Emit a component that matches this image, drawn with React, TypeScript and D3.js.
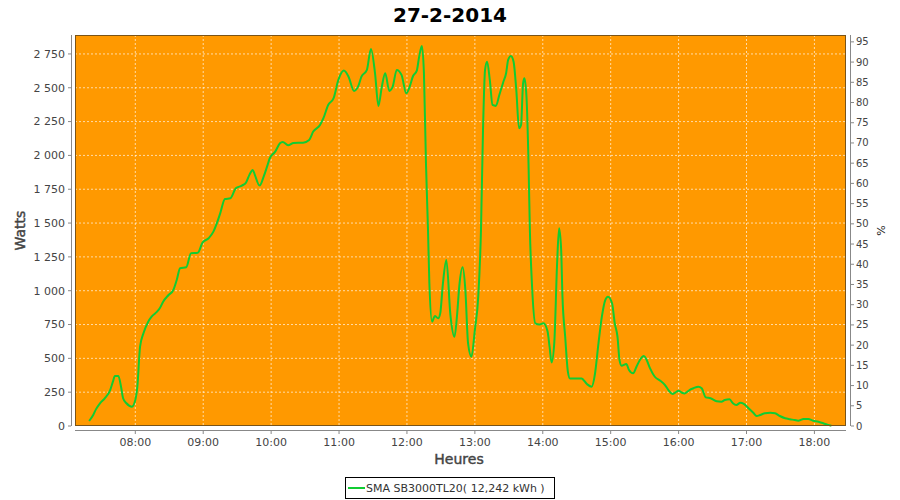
import React from "react";
import * as d3 from "d3";

const title = "27-2-2014";
const seriesName = "SMA SB3000TL20( 12,242 kWh )";
const xTickHours = [8, 9, 10, 11, 12, 13, 14, 15, 16, 17, 18];
const leftTicks = [0, 250, 500, 750, 1000, 1250, 1500, 1750, 2000, 2250, 2500, 2750];
const rightTicks = [0, 5, 10, 15, 20, 25, 30, 35, 40, 45, 50, 55, 60, 65, 70, 75, 80, 85, 90, 95];

const hours = [
  7.32, 7.38, 7.42, 7.48, 7.55, 7.63, 7.67, 7.7, 7.75, 7.79, 7.82, 7.87, 7.95, 8.0, 8.03, 8.07, 8.12, 8.19, 8.24, 8.32,
  8.36, 8.41, 8.49, 8.56, 8.61, 8.66, 8.75, 8.82, 8.92, 8.99, 9.08, 9.15, 9.2, 9.25, 9.32, 9.4, 9.48, 9.57, 9.63, 9.68,
  9.73, 9.76, 9.83, 9.89, 9.94, 9.98, 10.06, 10.13, 10.17, 10.25, 10.33, 10.47, 10.56, 10.62, 10.72, 10.77, 10.84, 10.92, 10.99, 11.07,
  11.14, 11.22, 11.28, 11.33, 11.41, 11.47, 11.53, 11.58, 11.63, 11.68, 11.74, 11.79, 11.85, 11.92, 11.99, 12.04, 12.09, 12.145, 12.18, 12.22,
  12.25, 12.28, 12.31, 12.33, 12.37, 12.41, 12.46, 12.49, 12.53, 12.58, 12.64, 12.7, 12.74, 12.77, 12.82, 12.86, 12.9, 12.95, 13.0, 13.05,
  13.09, 13.12, 13.15, 13.18, 13.22, 13.26, 13.31, 13.36, 13.42, 13.46, 13.49, 13.53, 13.57, 13.61, 13.65, 13.68, 13.71, 13.73, 13.76, 13.79,
  13.81, 13.84, 13.89, 13.95, 14.01, 14.07, 14.1, 14.13, 14.17, 14.21, 14.24, 14.27, 14.29, 14.33, 14.37, 14.4, 14.48, 14.57, 14.65, 14.72,
  14.77, 14.82, 14.87, 14.92, 14.96, 15.02, 15.06, 15.1, 15.13, 15.16, 15.23, 15.27, 15.33, 15.38, 15.43, 15.49, 15.53, 15.58, 15.65, 15.73,
  15.8, 15.85, 15.91, 15.95, 16.0, 16.05, 16.09, 16.16, 16.22, 16.29, 16.34, 16.4, 16.47, 16.56, 16.63, 16.68, 16.75, 16.8, 16.85, 16.91,
  16.96, 17.03, 17.1, 17.15, 17.2, 17.27, 17.35, 17.42, 17.49, 17.57, 17.64, 17.71, 17.76, 17.84, 17.91, 17.98, 18.06, 18.13, 18.19, 18.25,
];

const watts = [
  37, 81, 123, 168, 205, 266, 328, 370, 370, 290, 205, 168, 143, 192, 290, 586, 685, 771, 808, 845,
  870, 919, 968, 1005, 1079, 1166, 1173, 1277, 1281, 1355, 1388, 1437, 1498, 1572, 1678, 1683, 1757, 1777, 1799, 1856,
  1893, 1856, 1777, 1843, 1917, 1979, 2028, 2090, 2100, 2075, 2092, 2094, 2114, 2176, 2225, 2275, 2373, 2423, 2558, 2627,
  2582, 2477, 2508, 2582, 2632, 2787, 2607, 2366, 2508, 2607, 2477, 2508, 2632, 2595, 2459, 2508, 2587, 2627, 2730, 2809,
  2607, 1942, 1449, 1055, 771, 813, 796, 833, 1055, 1227, 820, 660, 833, 1030, 1173, 1005, 611, 512, 710, 956,
  1449, 2188, 2632, 2693, 2558, 2373, 2366, 2447, 2545, 2607, 2706, 2735, 2693, 2484, 2201, 2225, 2533, 2570, 2434, 1942,
  1449, 1055, 759, 750, 760, 700, 586, 470, 620, 1190, 1461, 1310, 956, 660, 400, 352, 352, 352, 310, 291,
  390, 611, 808, 931, 956, 907, 759, 660, 488, 446, 458, 414, 390, 438, 488, 517, 488, 426, 364, 335,
  303, 266, 237, 246, 261, 246, 241, 266, 279, 291, 279, 212, 205, 183, 180, 192, 197, 168, 155, 172,
  163, 131, 98, 74, 81, 94, 98, 94, 74, 57, 50, 44, 39, 52, 52, 39, 32, 20, 10, 2,
];

const W = 900;
const H = 500;
const plot = { left: 75, top: 35, right: 846, bottom: 426 };
const font = "DejaVu Sans, Verdana, sans-serif";

const locale = d3.formatLocale({ decimal: ",", thousands: " ", grouping: [3], currency: ["", ""] });
const fmt = locale.format(",d");

export default function App() {
  const x = d3.scaleLinear().domain([7.112, 18.465]).range([plot.left, plot.right]);
  const y = d3.scaleLinear().domain([0, 2890]).range([plot.bottom, plot.top]);
  const yR = d3.scaleLinear().domain([0, 96.7]).range([plot.bottom, plot.top]);

  const data = hours.map((h, i) => ({ h, w: watts[i] }));
  const line = d3
    .line<{ h: number; w: number }>()
    .x((d) => x(d.h))
    .y((d) => y(d.w))
    .curve(d3.curveMonotoneX);

  const hh = (h: number) => `${String(h).padStart(2, "0")}:00`;
  const axisColor = "#888";
  const tickText = "#444";

  return (
    <svg width={W} height={H} style={{ position: "absolute", left: 0, top: 0, background: "#fff" }} fontFamily={font}>
      <text x={450} y={22} textAnchor="middle" fontSize={20} fontWeight="bold" fill="#000">
        {title}
      </text>
      <rect x={plot.left} y={plot.top} width={plot.right - plot.left} height={plot.bottom - plot.top} fill="#ff9900" />
      {leftTicks.map((t) => (
        <line key={"gy" + t} x1={plot.left} x2={plot.right} y1={y(t)} y2={y(t)} stroke="#fff" strokeOpacity={0.65} strokeDasharray="2,2" />
      ))}
      {xTickHours.map((t) => (
        <line key={"gx" + t} x1={x(t)} x2={x(t)} y1={plot.top} y2={plot.bottom} stroke="#fff" strokeOpacity={0.65} strokeDasharray="2,2" />
      ))}
      <path d={line(data) || ""} fill="none" stroke="#11cc33" strokeWidth={2} strokeLinejoin="round" />
      <rect x={plot.left + 0.5} y={plot.top + 0.5} width={plot.right - plot.left - 1} height={plot.bottom - plot.top - 1} fill="none" stroke="#7a5418" strokeWidth={1} />

      {/* left axis */}
      <line x1={71.5} x2={71.5} y1={plot.top} y2={plot.bottom} stroke={axisColor} />
      {leftTicks.map((t) => (
        <g key={"ly" + t}>
          <line x1={68} x2={71} y1={y(t)} y2={y(t)} stroke={axisColor} />
          <text x={65} y={y(t)} dy="0.35em" textAnchor="end" fontSize={11} fill={tickText}>
            {fmt(t)}
          </text>
        </g>
      ))}
      <text transform={`translate(25,${(plot.top + plot.bottom) / 2}) rotate(-90)`} textAnchor="middle" fontSize={14} fill="#444" stroke="#444" strokeWidth={0.45}>
        Watts
      </text>

      {/* right axis */}
      <line x1={850.5} x2={850.5} y1={plot.top} y2={plot.bottom} stroke={axisColor} />
      {rightTicks.map((t) => (
        <g key={"ry" + t}>
          <line x1={851} x2={854} y1={yR(t)} y2={yR(t)} stroke={axisColor} />
          <text x={856} y={yR(t)} dy="0.35em" textAnchor="start" fontSize={10} fill={tickText}>
            {t}
          </text>
        </g>
      ))}
      <text transform={`translate(885,${(plot.top + plot.bottom) / 2}) rotate(-90)`} textAnchor="middle" fontSize={11} fill="#222">
        %
      </text>

      {/* bottom axis */}
      <line x1={plot.left} x2={plot.right} y1={430.5} y2={430.5} stroke={axisColor} />
      {xTickHours.map((t) => (
        <g key={"bx" + t}>
          <line x1={x(t)} x2={x(t)} y1={431} y2={434} stroke={axisColor} />
          <text x={x(t)} y={446} textAnchor="middle" fontSize={11} fill={tickText}>
            {hh(t)}
          </text>
        </g>
      ))}
      <text x={459} y={464} textAnchor="middle" fontSize={14} fill="#444" stroke="#444" strokeWidth={0.45}>
        Heures
      </text>

      {/* legend */}
      <rect x={345.5} y={477.5} width={209} height={21} fill="#fff" stroke="#000" />
      <line x1={348} x2={365} y1={488} y2={488} stroke="#11cc33" strokeWidth={2} />
      <text x={366} y={492} fontSize={11} fill="#333">
        {seriesName}
      </text>
    </svg>
  );
}
